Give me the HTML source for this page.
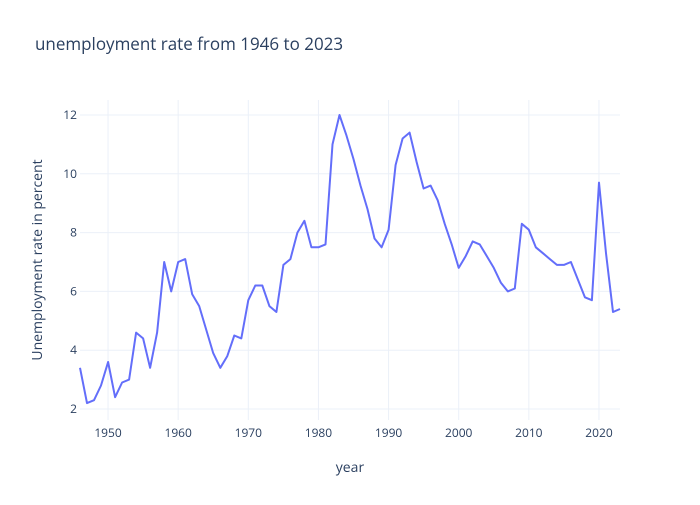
<!DOCTYPE html>
<html><head><meta charset="utf-8"><style>
body{margin:0;background:#fff;font-family:"Open Sans","Liberation Sans",sans-serif;}
svg text{font-family:"Open Sans","Liberation Sans",sans-serif;fill:#2a3f5f;}
</style></head><body>
<svg id="chart" width="700" height="500">
<rect width="700" height="500" fill="#fff"/>
<text x="35" y="50" font-size="17">unemployment rate from 1946 to 2023</text>
<g id="grid"></g><g id="axes"></g>
<text x="350" y="472" font-size="14" text-anchor="middle">year</text>
<text transform="translate(42,260) rotate(-90)" font-size="14" text-anchor="middle">Unemployment rate in percent</text>
</svg>
<script>
const years=[];for(let y=1946;y<=2023;y++)years.push(y);
const rates=[3.4,2.2,2.3,2.8,3.6,2.4,2.9,3.0,4.6,4.4,3.4,4.6,7.0,6.0,7.0,7.1,5.9,5.5,4.7,3.9,3.4,3.8,4.5,4.4,5.7,6.2,6.2,5.5,5.3,6.9,7.1,8.0,8.4,7.5,7.5,7.6,11.0,12.0,11.3,10.5,9.6,8.8,7.8,7.5,8.1,10.3,11.2,11.4,10.4,9.5,9.6,9.1,8.3,7.6,6.8,7.2,7.7,7.6,7.2,6.8,6.3,6.0,6.1,8.3,8.1,7.5,7.3,7.1,6.9,6.9,7.0,6.4,5.8,5.7,9.7,7.3,5.3,5.4];
const xTicks=[1950,1960,1970,1980,1990,2000,2010,2020];
const yTicks=[2,4,6,8,10,12];
const L=80,R=620,T=100,B=420,x0=1946,x1=2023,y0=1.626,y1=12.51;
const sx=v=>L+(v-x0)/(x1-x0)*(R-L);
const sy=v=>B-(v-y0)/(y1-y0)*(B-T);
const NS="http://www.w3.org/2000/svg";
const svg=document.getElementById('chart'),grid=document.getElementById('grid'),axes=document.getElementById('axes');
function mk(t,a,p){const e=document.createElementNS(NS,t);for(const k in a)e.setAttribute(k,a[k]);p.appendChild(e);return e;}
const bg=mk('rect',{x:L,y:T,width:R-L,height:B-T,fill:'#fff'},grid);


xTicks.forEach(v=>{
const g=mk('line',{x1:sx(v),x2:sx(v),y1:T,y2:B,stroke:'#ebf0f8'},grid);


const t=mk('text',{x:sx(v),y:B+17,'font-size':12,'text-anchor':'middle'},axes);t.textContent=v;


});
yTicks.forEach(v=>{
const g=mk('line',{x1:L,x2:R,y1:sy(v),y2:sy(v),stroke:'#ebf0f8'},grid);


const t=mk('text',{x:L-3,y:sy(v)+4,'font-size':12,'text-anchor':'end'},axes);t.textContent=v;


});
const d=years.map((y,i)=>(i?'L':'M')+sx(y).toFixed(1)+','+sy(rates[i]).toFixed(1)).join('');
const line=mk('path',{d:d,fill:'none',stroke:'#636efa','stroke-width':2,'stroke-linejoin':'round'},svg);


</script>
</body></html>
